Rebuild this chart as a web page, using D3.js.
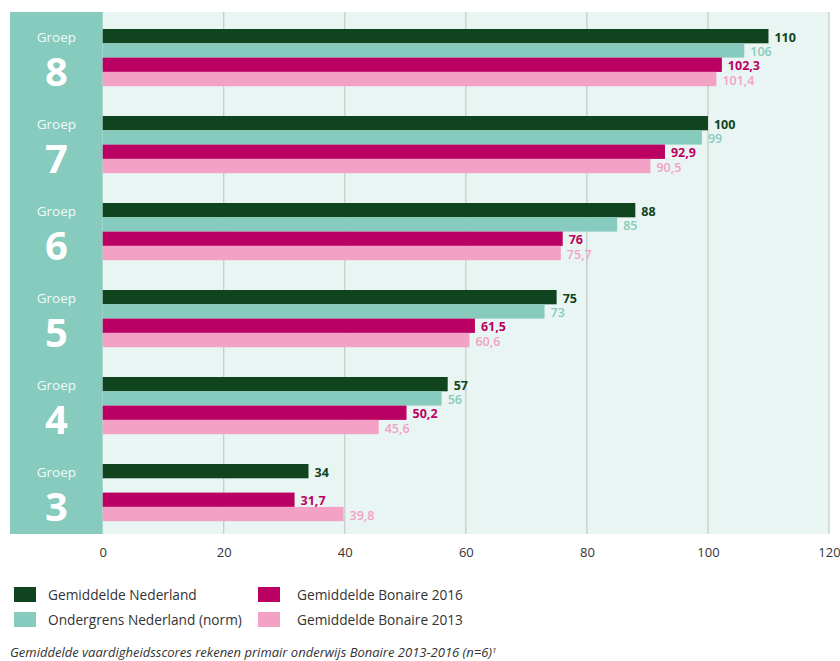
<!DOCTYPE html>
<html lang="nl">
<head>
<meta charset="UTF-8">
<title>Rekenen Bonaire</title>
<script src="https://d3js.org/d3.v7.min.js"></script>
<style>
  body { margin: 0; background: #fff; }
  text { font-family: "Open Sans", "Noto Sans", sans-serif; }
</style>
</head>
<body>
<div id="viz"></div>
<script>
// data
var groups = ["8", "7", "6", "5", "4", "3"];
var seriesNames = ["Gemiddelde Nederland", "Ondergrens Nederland (norm)", "Gemiddelde Bonaire 2016", "Gemiddelde Bonaire 2013"];
var gemNederland = [110, 100, 88, 75, 57, 34];
var normNederland = [106, 99, 85, 73, 56, null];
var bonaire2016 = [102.3, 92.9, 76, 61.5, 50.2, 31.7];
var bonaire2013 = [101.4, 90.5, 75.7, 60.6, 45.6, 39.8];
var xTicks = [0, 20, 40, 60, 80, 100, 120];
var footnote = "Gemiddelde vaardigheidsscores rekenen primair onderwijs Bonaire 2013-2016 (n=6)";

var barColors = ["#10441f", "#86cbbd", "#bb0063", "#f3a1c5"];
var labelColors = ["#10441f", "#86cbbd", "#bb0063", "#f3a1c5"];
var labelWeights = [700, 600, 700, 600];
var allSeries = [gemNederland, normNederland, bonaire2016, bonaire2013];

var w = 840, h = 661;
var panelLeft = 10, plotLeft = 102.7, plotRight = 829, plotTop = 12, plotBottom = 534;

var svg = d3.select("#viz").append("svg")
    .attr("width", w)
    .attr("height", h);

var x = d3.scaleLinear().domain([0, 120]).range([plotLeft, plotRight]);
var y = d3.scaleBand().domain(groups).range([plotTop, plotBottom]);
var inner = d3.scaleBand().domain(d3.range(4)).range([17, 17 + 4 * 14.3]);

// background panel
svg.append("rect")
    .attr("x", plotLeft).attr("y", plotTop)
    .attr("width", plotRight - plotLeft).attr("height", plotBottom - plotTop)
    .attr("fill", "#e9f5f2");

// left column with group names
svg.append("rect")
    .attr("x", panelLeft).attr("y", plotTop)
    .attr("width", plotLeft - panelLeft).attr("height", plotBottom - plotTop)
    .attr("fill", "#86cbbd");

// grid lines
svg.append("g").selectAll("line")
    .data(xTicks.filter(function(d){ return d > 0; }))
    .enter().append("line")
    .attr("x1", function(d){ return x(d); })
    .attr("x2", function(d){ return x(d); })
    .attr("y1", plotTop).attr("y2", plotBottom)
    .attr("stroke", "#b9c3c0")
    .attr("stroke-width", 1);

// group labels
var gl = svg.append("g").selectAll("g")
    .data(groups)
    .enter().append("g")
    .attr("transform", function(d){ return "translate(" + ((panelLeft + plotLeft) / 2) + "," + y(d) + ")"; });
gl.append("text")
    .attr("y", 30)
    .attr("text-anchor", "middle")
    .attr("fill", "#f3faf8")
    .style("font-size", "13.5px")
    .text("Groep");
gl.append("text")
    .attr("y", 74)
    .attr("text-anchor", "middle")
    .attr("fill", "#ffffff")
    .style("font-size", "40px")
    .style("font-weight", "700")
    .text(function(d){ return d; });

// bars
var fmt = function(v){ return String(v).replace(".", ","); };
var bars = [];
allSeries.forEach(function(s, si){
    s.forEach(function(v, gi){
        if (v !== null) bars.push({ g: groups[gi], s: si, v: v });
    });
});

var barG = svg.append("g");
barG.selectAll("rect")
    .data(bars)
    .enter().append("rect")
    .attr("x", x(0))
    .attr("y", function(d){ return y(d.g) + inner(d.s); })
    .attr("width", function(d){ return x(d.v) - x(0); })
    .attr("height", inner.bandwidth())
    .attr("fill", function(d){ return barColors[d.s]; });

barG.selectAll("text")
    .data(bars)
    .enter().append("text")
    .attr("x", function(d){ return x(d.v) + 6; })
    .attr("y", function(d){ return y(d.g) + inner(d.s) + inner.bandwidth() / 2 + 1; })
    .attr("dy", "0.36em")
    .attr("fill", function(d){ return labelColors[d.s]; })
    .style("font-size", "12.5px")
    .style("font-weight", function(d){ return labelWeights[d.s]; })
    .text(function(d){ return fmt(d.v); });

// x axis labels
var axis = d3.axisBottom(x).tickValues(xTicks).tickSize(0).tickPadding(0);
var axG = svg.append("g")
    .attr("transform", "translate(0," + (plotBottom + 14) + ")")
    .call(axis);
axG.select(".domain").remove();
axG.selectAll("text")
    .attr("fill", "#333")
    .style("font-size", "13px")
    .style("font-family", "'Open Sans', sans-serif");

// legend
var legendPos = [[14, 587], [14, 612], [258, 587], [258, 612]];
var lg = svg.append("g").selectAll("g")
    .data(seriesNames)
    .enter().append("g")
    .attr("transform", function(d, i){ return "translate(" + legendPos[i][0] + "," + legendPos[i][1] + ")"; });
lg.append("rect")
    .attr("width", 22).attr("height", 15)
    .attr("fill", function(d, i){ return barColors[i]; });
lg.append("text")
    .attr("x", function(d, i){ return i < 2 ? 34 : 39; })
    .attr("y", 8)
    .attr("dy", "0.36em")
    .attr("fill", "#333")
    .style("font-size", "13.7px")
    .text(function(d){ return d; });

// footnote
var fn = svg.append("text")
    .attr("x", 10).attr("y", 657)
    .attr("fill", "#333")
    .style("font-size", "13px")
    .style("font-style", "italic")
    .text(footnote);
fn.append("tspan")
    .attr("dy", "-0.45em")
    .style("font-size", "8px")
    .text("1");
</script>
</body>
</html>
